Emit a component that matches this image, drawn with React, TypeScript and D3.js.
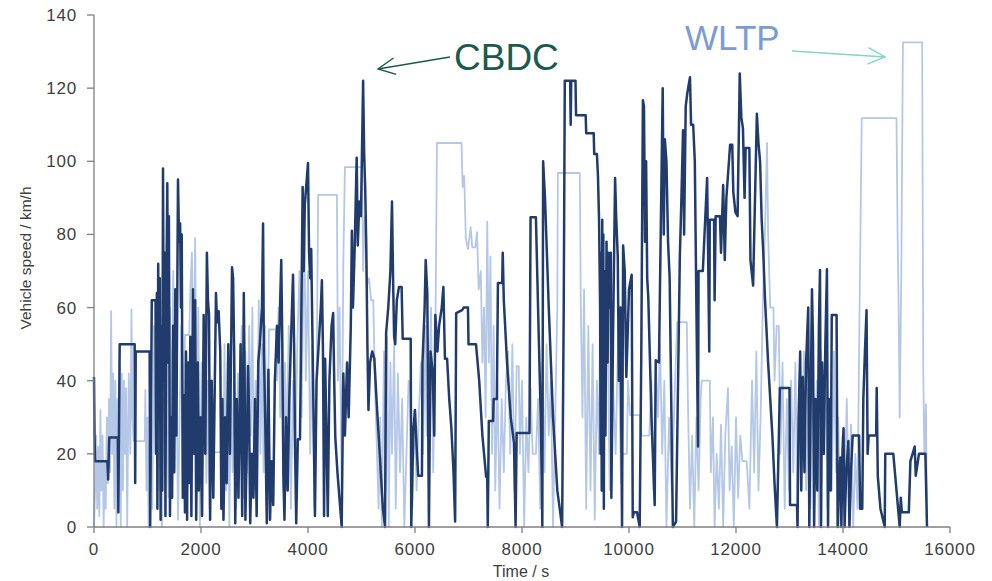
import * as d3 from 'd3';

// [time s, speed km/h]
const cbdcData: [number, number][] = [
  [0, 41], [10, 25], [20, 18], [250, 18], [265, 13], [285, 24.5], [445, 24.5], [455, 4], [480, 50], [760, 50],
  [770, 12], [780, 48], [1040, 48], [1050, 0], [1080, 62], [1150, 62],
  [1160, 20], [1175, 64], [1185, 5], [1200, 72], [1215, 30], [1230, 68], [1245, 2], [1260, 55], [1275, 10], [1290, 98],
  [1305, 40], [1320, 75], [1335, 3], [1350, 60], [1370, 94], [1385, 45], [1400, 85], [1420, 3], [1440, 30], [1460, 8],
  [1480, 55], [1500, 15], [1520, 65], [1540, 25], [1570, 95], [1590, 78], [1610, 83], [1625, 60], [1640, 80], [1660, 8],
  [1680, 36], [1700, 4], [1720, 48], [1740, 2], [1760, 45], [1780, 12], [1800, 52], [1820, 3], [1850, 65], [1870, 20],
  [1890, 62], [1910, 2], [1940, 45], [1960, 10], [1990, 30], [2020, 3], [2050, 58], [2080, 20], [2110, 75], [2130, 62],
  [2150, 58], [2170, 2], [2200, 40], [2230, 8], [2280, 64], [2300, 56], [2330, 59], [2360, 48], [2380, 5], [2400, 35],
  [2420, 2], [2450, 30], [2480, 12], [2510, 50], [2540, 20], [2580, 71], [2600, 68], [2620, 48], [2640, 1], [2670, 35],
  [2700, 8], [2740, 50], [2770, 3], [2800, 64], [2815, 42], [2830, 2], [2860, 25], [2880, 44], [2900, 30], [2920, 1],
  [2950, 20], [2980, 8], [3010, 35], [3040, 3], [3070, 45], [3100, 50], [3140, 60], [3160, 83], [3175, 48], [3200, 30],
  [3230, 1], [3260, 43], [3290, 2], [3320, 18], [3350, 6], [3380, 40], [3420, 55], [3450, 45], [3500, 73], [3520, 50],
  [3540, 14], [3560, 2], [3590, 30], [3620, 10], [3650, 35], [3690, 55], [3720, 69], [3740, 50], [3760, 20], [3780, 1],
  [3810, 24], [3850, 24], [3870, 50], [3900, 93],
  [3920, 70], [3940, 88], [4000, 99.5], [4020, 75], [4040, 68], [4060, 76], [4090, 45], [4130, 3], [4160, 40], [4200, 50],
  [4240, 60], [4260, 67.5], [4280, 48], [4300, 3], [4320, 46], [4340, 30], [4370, 3], [4400, 40], [4440, 55], [4470, 58.5],
  [4490, 40], [4510, 24.6], [4550, 15], [4630, 0], [4660, 42], [4690, 25], [4730, 45], [4760, 30], [4800, 55], [4820, 81],
  [4840, 60], [4870, 75], [4910, 101], [4930, 77], [4960, 89], [4990, 85], [5030, 122], [5050, 102], [5070, 92], [5090, 76],
  [5110, 50], [5130, 32], [5160, 45], [5200, 48], [5240, 46], [5280, 35], [5320, 25], [5360, 15], [5400, 5], [5440, 0],
  [5460, 53], [5500, 60], [5540, 70], [5570, 89], [5590, 68], [5610, 52], [5630, 50], [5660, 62], [5700, 65.6], [5750, 65.6],
  [5770, 51.5], [5920, 51.5], [5930, 0], [5970, 27], [6000, 32], [6030, 22], [6060, 14], [6130, 14], [6140, 45], [6180, 60],
  [6200, 73], [6230, 64], [6260, 0], [6290, 48], [6330, 42.5], [6360, 25], [6380, 58], [6420, 48], [6450, 55], [6500, 60],
  [6530, 65.6], [6560, 46], [6600, 46], [6640, 35], [6680, 27], [6720, 15], [6750, 1.5], [6770, 58.5],
  [6880, 59.3], [6890, 59.5], [6910, 60], [6990, 60], [7000, 50], [7140, 50], [7200, 40], [7260, 25], [7330, 13.7], [7350, 13.7],
  [7360, 0], [7380, 29], [7460, 29], [7470, 35], [7530, 35], [7550, 66.7], [7630, 66.7], [7640, 75], [7660, 62], [7720, 45],
  [7790, 30], [7850, 23], [7880, 0], [7900, 25.7], [8140, 25.7], [8160, 84.7], [8260, 84.7], [8300, 60], [8350, 30], [8370, 13.7],
  [8380, 0], [8395, 100], [8430, 90], [8500, 60], [8580, 30], [8660, 10], [8750, 0], [8780, 60], [8800, 122], [8900, 122],
  [8910, 110], [8920, 122], [9000, 122], [9010, 112.6], [9190, 112.6], [9200, 107.7], [9340, 107.7], [9350, 102], [9400, 102], [9420, 96],
  [9440, 84], [9460, 60], [9470, 20], [9480, 75], [9490, 10], [9500, 84], [9510, 40], [9520, 80], [9530, 5], [9540, 70],
  [9560, 25], [9580, 78], [9600, 45],
  [9620, 75], [9640, 60], [9660, 75], [9670, 8], [9700, 50], [9740, 95.4], [9760, 85], [9790, 74], [9810, 40], [9840, 60],
  [9870, 0], [9890, 77], [9920, 70], [9950, 41], [9980, 55], [10000, 65], [10050, 69], [10070, 2.7], [10090, 4], [10150, 4],
  [10200, 0], [10230, 48], [10260, 116.7], [10280, 115], [10300, 78], [10320, 100], [10340, 68], [10360, 63], [10420, 30], [10460, 14],
  [10480, 6], [10500, 45.6], [10560, 45], [10630, 120], [10650, 80], [10670, 106], [10700, 100], [10730, 78], [10760, 68], [10820, 0],
  [10880, 1.5], [10950, 73.8], [10980, 90], [11010, 108.5], [11030, 80], [11060, 115], [11090, 118.6], [11140, 123], [11160, 110], [11200, 110],
  [11230, 100], [11260, 60], [11290, 22], [11300, 70], [11380, 70], [11460, 95.4], [11480, 73], [11500, 48], [11510, 84], [11590, 84],
  [11600, 62], [11620, 85], [11700, 85], [11720, 75], [11760, 93.5], [11790, 73], [11820, 90], [11890, 104.5], [11930, 104.5], [11950, 91.5],
  [11990, 86], [12030, 85], [12070, 124], [12100, 112], [12130, 109], [12160, 90], [12180, 103.6], [12250, 103.6], [12270, 73], [12320, 66],
  [12390, 113], [12420, 105], [12450, 100], [12480, 84], [12510, 75], [12540, 63], [12600, 45], [12680, 25], [12720, 12], [12765, 0],
  [12820, 38], [13000, 38], [13010, 6], [13140, 6], [13150, 0], [13170, 30], [13200, 48], [13220, 10], [13250, 41], [13280, 15],
  [13310, 45], [13350, 60], [13370, 0], [13400, 40], [13420, 65], [13440, 50], [13460, 0], [13490, 35], [13520, 10], [13550, 55],
  [13570, 70.3], [13590, 0], [13610, 45], [13640, 20], [13670, 50], [13700, 70.5], [13720, 0], [13740, 35], [13770, 10], [13790, 58],
  [13880, 58], [13900, 0], [13930, 15], [13950, 19], [13970, 0], [13990, 20], [14010, 27], [14030, 0], [14060, 15], [14100, 23.5],
  [14120, 0], [14150, 15], [14180, 25], [14300, 25], [14320, 5], [14360, 5], [14380, 35], [14410, 48], [14440, 59.3], [14460, 20],
  [14480, 25], [14620, 25], [14630, 38], [14650, 14], [14700, 5], [14780, 0], [14790, 20], [14940, 20], [15060, 0], [15080, 8],
  [15100, 4], [15230, 4], [15260, 18], [15340, 22], [15360, 14], [15420, 20], [15540, 20], [15570, 0],
];

const wltpData: [number, number][] = [
  [0, 0], [20, 10], [40, 25], [60, 5], [80, 22], [100, 3], [120, 32], [140, 10], [160, 25], [180, 0],
  [200, 18], [220, 5], [240, 30], [260, 12], [280, 35], [300, 15], [320, 59], [340, 20], [360, 42], [380, 5],
  [400, 40], [420, 0], [440, 35], [460, 15], [480, 45], [500, 0], [520, 42], [540, 10], [560, 40], [580, 20],
  [600, 38], [620, 0], [650, 42], [680, 20], [700, 59.5], [720, 30], [740, 23.5], [950, 23.5], [960, 37.5], [980, 10],
  [1000, 30], [1020, 0], [1040, 20], [1060, 40], [1090, 5], [1120, 55], [1150, 20], [1180, 62], [1210, 10], [1240, 45],
  [1270, 0], [1300, 35], [1330, 15], [1360, 50], [1390, 8], [1420, 60], [1450, 25], [1480, 70], [1510, 35], [1540, 45],
  [1570, 2], [1600, 30], [1630, 55], [1660, 10], [1700, 52.5], [1780, 52.5], [1800, 65], [1830, 75], [1860, 40], [1890, 79],
  [1920, 30], [1950, 60], [1980, 0], [2010, 45], [2040, 20], [2070, 55], [2100, 12], [2130, 40], [2160, 5], [2190, 35],
  [2220, 20.5], [2420, 20.5], [2440, 50], [2470, 10], [2500, 45], [2530, 0], [2560, 38], [2590, 15], [2620, 50], [2650, 5],
  [2690, 42], [2720, 20], [2760, 55], [2790, 8], [2830, 48], [2860, 15], [2900, 55], [2930, 25], [2960, 60], [2990, 10],
  [3020, 40], [3050, 25], [3080, 62], [3110, 20], [3140, 50], [3170, 15], [3200, 55], [3230, 5], [3270, 54], [3400, 54],
  [3420, 40], [3450, 60], [3480, 30], [3510, 50], [3540, 10], [3570, 45], [3600, 20], [3640, 55], [3680, 5], [3720, 40],
  [3760, 15], [3800, 50], [3840, 70], [3880, 30], [3930, 85], [3960, 40], [4000, 70], [4040, 20], [4080, 50], [4120, 5],
  [4160, 40], [4190, 90.8], [4540, 90.8], [4560, 40], [4590, 60], [4630, 10], [4660, 72], [4690, 98.4], [5010, 98.4], [5030, 70],
  [5060, 85], [5100, 66], [5140, 68], [5180, 62], [5220, 62], [5250, 40], [5290, 20], [5320, 5], [5350, 30], [5380, 0],
  [5420, 48], [5450, 10], [5480, 52], [5510, 0], [5540, 45], [5570, 20], [5610, 50], [5640, 5], [5680, 42], [5720, 15],
  [5760, 35], [5800, 0], [5840, 20], [5880, 40], [5910, 38], [5950, 5], [5990, 32], [6030, 10], [6070, 30], [6110, 45],
  [6150, 20], [6190, 55], [6220, 25], [6260, 40], [6300, 60], [6340, 15], [6380, 50], [6410, 105], [6870, 105], [6890, 93],
  [6920, 96], [6950, 79], [6990, 76], [7040, 82], [7070, 76.5], [7130, 76.5], [7160, 80.6], [7190, 65], [7230, 70], [7260, 45],
  [7290, 60], [7320, 30], [7350, 83.5], [7380, 45], [7410, 74], [7440, 20], [7470, 55], [7500, 10], [7540, 40], [7580, 5],
  [7620, 35], [7660, 15], [7700, 40], [7740, 48], [7780, 20], [7820, 50], [7860, 10], [7900, 44], [7940, 44], [7960, 20],
  [8000, 40], [8040, 0], [8080, 30], [8120, 15], [8160, 38], [8200, 20], [8260, 20], [8300, 35], [8340, 5], [8380, 45],
  [8420, 15], [8460, 50], [8500, 25], [8540, 40], [8580, 0], [8620, 30], [8660, 60], [8670, 96.8], [9080, 96.8], [9100, 60],
  [9130, 30], [9160, 65], [9200, 5], [9240, 55], [9280, 10], [9320, 50], [9360, 2], [9400, 40], [9440, 20], [9460, 63],
  [9540, 63], [9560, 40], [9600, 55], [9640, 10], [9700, 40], [9750, 20], [9800, 55], [9850, 12], [9880, 20], [9960, 20],
  [9980, 40], [10020, 30.6], [10200, 30.6], [10230, 25], [10380, 25], [10420, 40], [10460, 10], [10500, 45], [10540, 30], [10580, 50],
  [10620, 20], [10660, 40], [10700, 0], [10750, 30], [10800, 10], [10850, 35], [10900, 56], [11080, 56], [11100, 35], [11140, 5],
  [11180, 25], [11220, 0], [11260, 30], [11300, 10], [11340, 35], [11360, 40], [11510, 40], [11530, 15], [11570, 30], [11600, 0],
  [11640, 20], [11680, 5], [11720, 28], [11760, 0], [11800, 25], [11850, 38], [11880, 10], [11920, 22], [11960, 0], [12000, 30],
  [12040, 8], [12080, 25], [12120, 18], [12200, 18], [12250, 5], [12300, 40], [12340, 15], [12380, 48], [12420, 10], [12460, 30],
  [12500, 60], [12540, 80], [12580, 105], [12600, 80], [12640, 60], [12700, 60], [12720, 40], [12760, 55], [12800, 55], [12830, 20],
  [12870, 45], [12910, 5], [12950, 35], [12990, 10], [13030, 40], [13070, 15], [13110, 45], [13150, 0], [13190, 42], [13230, 20],
  [13270, 48], [13310, 10], [13350, 38], [13390, 5], [13430, 45], [13470, 15], [13510, 40], [13550, 0], [13590, 48], [13630, 20],
  [13670, 42], [13710, 5], [13750, 35], [13790, 10], [13830, 48], [13870, 15], [13910, 30], [13950, 0], [13990, 25], [14030, 10],
  [14070, 35], [14110, 5], [14150, 28], [14190, 0], [14230, 20], [14270, 5], [14310, 60], [14350, 111.8], [15000, 111.8], [15020, 80.7],
  [15040, 60], [15060, 30], [15090, 70], [15120, 132.5], [15480, 132.5], [15500, 43], [15520, 20], [15550, 33.6], [15570, 0],
];

const xTicks = [0, 2000, 4000, 6000, 8000, 10000, 12000, 14000, 16000];
const yTicks = [0, 20, 40, 60, 80, 100, 120, 140];

const W = 992;
const H = 581;
const font = 'Liberation Sans, Arial, sans-serif';

export default function App() {
  const x = d3.scaleLinear().domain([0, 16000]).range([94, 950]);
  const y = d3.scaleLinear().domain([0, 140]).range([527, 15]);
  const line = d3.line<[number, number]>().x(d => x(d[0])).y(d => y(d[1]));

  const arrowHead = (x1: number, y1: number, x2: number, y2: number, len: number, spread: number) => {
    const a = Math.atan2(y2 - y1, x2 - x1);
    const p1 = [x2 - len * Math.cos(a - spread), y2 - len * Math.sin(a - spread)];
    const p2 = [x2 - len * Math.cos(a + spread), y2 - len * Math.sin(a + spread)];
    return `M${p1[0]},${p1[1]} L${x2},${y2} L${p2[0]},${p2[1]}`;
  };

  return (
    <svg width={W} height={H} style={{ position: 'absolute', left: 0, top: 0, background: '#fff' }}>
      {/* series */}
      <path d={line(wltpData) ?? ''} fill="none" stroke="#b4c7e7" strokeWidth={1.8} strokeLinejoin="round" />
      <path d={line(cbdcData) ?? ''} fill="none" stroke="#213b6c" strokeWidth={2.5} strokeLinejoin="round" />

      {/* axes */}
      <line x1={94} y1={15} x2={94} y2={527} stroke="#7f7f7f" strokeWidth={1.3} />
      <line x1={94} y1={527} x2={950} y2={527} stroke="#7f7f7f" strokeWidth={1.3} />
      {yTicks.map(t => (
        <g key={'y' + t}>
          <line x1={87} x2={94} y1={y(t)} y2={y(t)} stroke="#7f7f7f" strokeWidth={1.3} />
          <text x={77} y={y(t) + 6} textAnchor="end" fontFamily={font} fontSize={17} letterSpacing={0.8} fill="#404040">{t}</text>
        </g>
      ))}
      {xTicks.map(t => (
        <g key={'x' + t}>
          <line x1={x(t)} x2={x(t)} y1={527} y2={533} stroke="#7f7f7f" strokeWidth={1.3} />
          <text x={x(t)} y={555} textAnchor="middle" fontFamily={font} fontSize={17} letterSpacing={0.8} fill="#404040">{t}</text>
        </g>
      ))}
      <text x={521} y={577} textAnchor="middle" fontFamily={font} fontSize={16} fill="#404040">Time / s</text>
      <text transform="translate(31,258) rotate(-90)" textAnchor="middle" fontFamily={font} fontSize={15.5} fill="#404040">Vehicle speed / km/h</text>

      {/* annotations */}
      <text x={454} y={70} fontFamily={font} fontSize={37} fill="#1d5a4b">CBDC</text>
      <line x1={450} y1={57} x2={378} y2={69} stroke="#1d5a4b" strokeWidth={1.4} />
      <path d={arrowHead(450, 57, 378, 69, 19, 0.45)} fill="none" stroke="#1d5a4b" strokeWidth={1.4} />

      <text x={685} y={50} fontFamily={font} fontSize={35} fill="#7b9bd6">WLTP</text>
      <line x1={792} y1={51} x2={885} y2={57} stroke="#80d6c1" strokeWidth={1.4} />
      <path d={arrowHead(792, 51, 885, 57, 19, 0.45)} fill="none" stroke="#80d6c1" strokeWidth={1.4} />
    </svg>
  );
}
